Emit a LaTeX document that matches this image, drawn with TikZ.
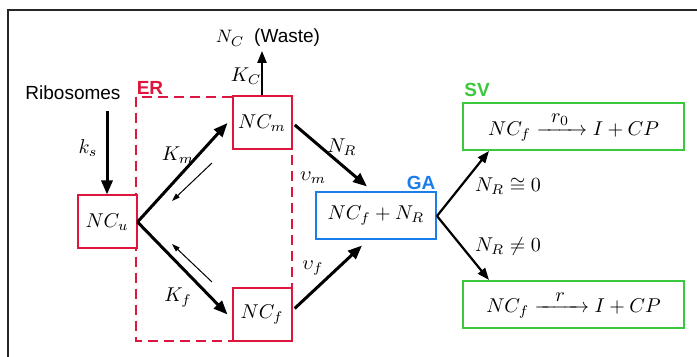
\documentclass[tikz,border=0pt]{standalone}
\usepackage{amsmath, amssymb}
\usepackage{fontspec}
\setsansfont{Liberation Sans}
\usepackage{tikz}
\usetikzlibrary{arrows.meta,calc,positioning}
\definecolor{erred}{RGB}{222,22,62}
\definecolor{gablue}{RGB}{25,125,235}
\definecolor{svgreen}{RGB}{60,200,60}

\begin{document}
\begin{tikzpicture}[x=0.5pt,y=-0.5pt,
    ncbox/.style={draw=erred, fill=white, line width=1pt, inner sep=0pt,
      minimum width=29.5pt, minimum height=26.5pt},
    gabox/.style={draw=gablue, fill=white, line width=1pt, inner sep=0pt,
      minimum width=60pt, minimum height=23.5pt},
    svbox/.style={draw=svgreen, fill=white, line width=1pt, inner sep=0pt,
      minimum width=110.5pt, minimum height=23.5pt},
    bigarrow/.style={line width=1.5pt, -{Triangle[length=7pt,width=5.5pt]}},
    midarrow/.style={line width=1.1pt, -{Triangle[length=6pt,width=4.5pt]}},
    backarrow/.style={line width=0.5pt, -{Triangle[length=4pt,width=2.6pt]}},
    tagtext/.style={font=\sffamily\fontsize{9.5}{11}\selectfont},
    compartment/.style={font=\sffamily\bfseries\fontsize{9.5}{11}\selectfont}]
  \useasboundingbox (0,0) rectangle (697,357);
  % frame of the figure
  \draw[line width=1pt, black!85] (8,357) -- (8,10) -- (697,10);
  % ER region
  \draw[erred, line width=1pt, dash pattern=on 5pt off 3pt] (136,97) rectangle (292,341);
  \node[compartment, text=erred] (er) at (150,88) {ER};
  % the complexes
  \node[ncbox] (ncu) at (107,222) {$NC_u$};
  \node[ncbox] (ncm) at (262,123) {$NC_m$};
  \node[ncbox] (ncf) at (262,314.5) {$NC_f$};
  \node[gabox] (ga) at (376,216) {$NC_f + N_R$};
  \node[compartment, text=gablue] (galabel) at (421,183) {GA};
  \node[svbox] (svzero) at (573.5,126.5) {$NC_f \xrightarrow{\hspace{5pt}\textstyle r_0\hspace{5pt}} I + CP$};
  \node[svbox] (svr) at (573.5,304.5) {$NC_f \xrightarrow{\hspace{8pt}\textstyle r\hspace{8pt}} I + CP$};
  \node[compartment, text=svgreen] (svlabel) at (477,90) {SV};
  % synthesis and waste
  \node[tagtext] (ribo) at (73,93) {Ribosomes};
  \coordinate (ksstart) at (107,111);
  \draw[bigarrow] (ksstart) -- (ncu.north);
  \node (ks) at (88,148) {$k_s$};
  \node[tagtext] (waste) at (268,38) {$N_C$\hspace{5pt}(Waste)};
  \draw[midarrow] (ncm.north) -- ([yshift=1.5pt]ncm.north |- waste.south);
  \node (kc) at (246,76) {$K_C$};
  % folding in the ER
  \draw[bigarrow] (ncu.east) -- ([xshift=-2pt]ncm.west);
  \draw[bigarrow] (ncu.east) -- ([xshift=-2pt]ncf.west);
  \node (km) at (178,155) {$K_m$};
  \node (kf) at (178,298) {$K_f$};
  \coordinate (mback1) at (212,163);
  \coordinate (mback2) at (172,201);
  \coordinate (fback1) at (212,282);
  \coordinate (fback2) at (172,244);
  \draw[backarrow] (mback1) -- (mback2);
  \draw[backarrow] (fback1) -- (fback2);
  % export to the Golgi
  \draw[bigarrow, shorten <=1.5pt] (ncm.east) -- ([xshift=-4.5pt,yshift=2.5pt]ga.north);
  \draw[bigarrow, shorten <=1.5pt] ([yshift=2pt]ncf.east) -- ([xshift=-7pt,yshift=-2.5pt]ga.south);
  \node (nr) at (342,147) {$N_R$};
  \node (um) at (313,178) {$\upsilon_m$};
  \node (uf) at (313,268) {$\upsilon_f$};
  % secretory vesicles
  \draw[midarrow] (ga.east) -- ([xshift=13.5pt]svzero.south west);
  \draw[midarrow] (ga.east) -- ([xshift=13.5pt]svr.north west);
  \node (nrzero) at (508,186) {$N_R \cong 0$};
  \node (nrnot) at (508,247) {$N_R \neq 0$};
\end{tikzpicture}
\end{document}
